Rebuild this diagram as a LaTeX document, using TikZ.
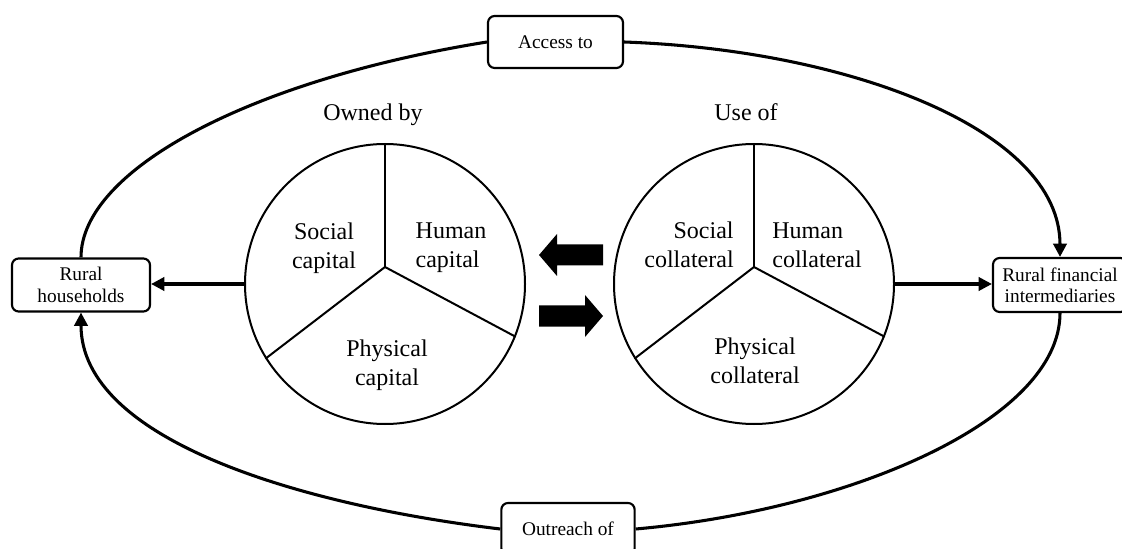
\documentclass[tikz,border=0pt]{standalone}
\usepackage{fontspec}
\setmainfont{Liberation Serif}
\usetikzlibrary{arrows.meta}
\tikzset{
    box/.style={draw, rounded corners=5pt, line width=1.6pt, fill=white, align=center,
        inner sep=2pt, font=\fontsize{14.5}{16}\selectfont},
    wheel/.style={draw, circle, line width=1.5pt, minimum size=210pt, inner sep=0pt},
    sector/.style={font=\fontsize{18}{21.75}\selectfont, inner sep=0pt},
    flow/.style={line width=2.3pt, -{Triangle[length=10pt,width=10pt]}},
    loopline/.style={line width=2.3pt}
}

\begin{document}
\begin{tikzpicture}[x=0.75pt, y=-0.75pt]
    \useasboundingbox (0,0) rectangle (1122,549);

    % Draw the outer boxes
    \node[box, minimum width=103.5pt, minimum height=39.75pt] (households) at (81,285) {Rural\\households};
    \node[box, minimum width=100.5pt, minimum height=40.5pt] (intermediaries) at (1060,285) {Rural financial\\intermediaries};
    \node[box, minimum width=101.25pt, minimum height=39pt] (access) at (555.5,42) {Access to};
    \node[box, minimum width=100pt, minimum height=39pt] (outreach) at (568,529) {Outreach of};

    % Draw the two wheels
    \node[wheel] (ownc) at (385,284) {};
    \node[wheel] (usec) at (754,284) {};
    \coordinate (ownhub) at (385,267);
    \coordinate (usehub) at (754,267);
    \foreach \a in {90,212,338} {
        \draw[line width=1.5pt] (ownhub) -- (ownc.\a);
        \draw[line width=1.5pt] (usehub) -- (usec.\a);
    }

    % Titles above the wheels
    \node[sector, anchor=base] (ownedby) at (373,121) {Owned by};
    \node[sector, anchor=base] (useof) at (746,121) {Use of};

    % Sector labels
    \node[sector, align=center] (socialcap) at (324,248) {Social\\capital};
    \node[sector, align=left] (humancap) at (451,248) {Human\\capital};
    \node[sector, align=center] (physcap) at (387,365) {Physical\\capital};
    \node[sector, align=right] (socialcol) at (689,245) {Social\\collateral};
    \node[sector, align=left] (humancol) at (817,245) {Human\\collateral};
    \node[sector, align=center] (physcol) at (755,361) {Physical\\collateral};

    % Block arrows between the wheels
    \fill[shift={(571,255)}] (32,-10.5) -- (-14,-10.5) -- (-14,-21) -- (-32,0)
        -- (-14,21) -- (-14,10.5) -- (32,10.5) -- cycle;
    \fill[shift={(571,316)}, xscale=-1] (32,-10.5) -- (-14,-10.5) -- (-14,-21) -- (-32,0)
        -- (-14,21) -- (-14,10.5) -- (32,10.5) -- cycle;

    % Straight arrows to the boxes
    \draw[flow] (ownc.west) -- (ownc.west -| households.east);
    \draw[flow] (usec.east) -- (usec.east -| intermediaries.west);

    % Outer loop
    \draw[loopline] (households.north) .. controls (81,170) and (250,80) .. (access.west);
    \draw[flow] (access.east) .. controls (850,50) and (1060,130) .. (intermediaries.north);
    \draw[loopline] (intermediaries.south) .. controls (1060,420) and (850,510) .. (outreach.east);
    \draw[flow] (outreach.west) .. controls (300,505) and (81,440) .. (households.south);
\end{tikzpicture}
\end{document}
